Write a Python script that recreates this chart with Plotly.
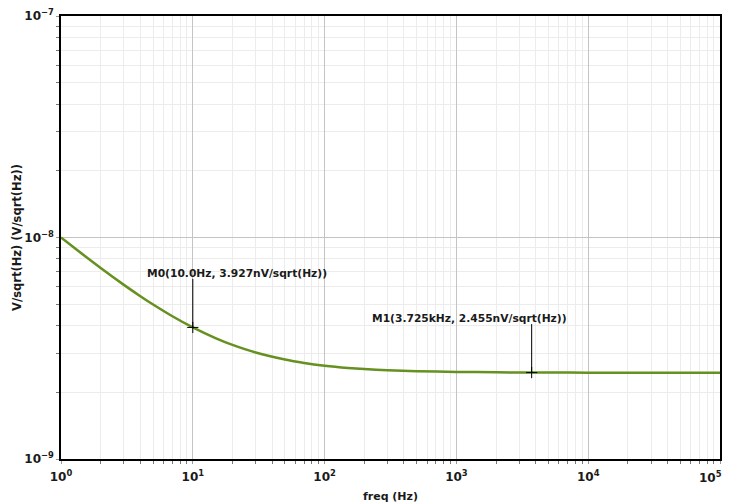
import plotly.graph_objects as go
import math

freq_hz = [1, 1.5, 2, 3, 4, 5, 7, 10, 15, 20, 30, 50, 70, 100, 150, 200, 300, 500,
           1000, 2000, 3725, 5000, 10000, 30000, 100000]
noise_v = [10.0e-9, 8.287e-9, 7.281e-9, 6.111e-9, 5.433e-9, 4.982e-9, 4.410e-9, 3.927e-9,
           3.505e-9, 3.274e-9, 3.025e-9, 2.811e-9, 2.713e-9, 2.638e-9, 2.578e-9, 2.548e-9,
           2.517e-9, 2.492e-9, 2.473e-9, 2.463e-9, 2.455e-9, 2.455e-9, 2.454e-9, 2.454e-9,
           2.454e-9]

marker_names = ["M0", "M1"]
marker_freq = [10.0, 3725.0]
marker_val = [3.927e-9, 2.455e-9]
marker_text = ["M0(10.0Hz, 3.927nV/sqrt(Hz))", "M1(3.725kHz, 2.455nV/sqrt(Hz))"]
marker_xshift = [-48, -162]

x_tickvals = [1, 10, 100, 1000, 10000, 100000]
x_ticktext = ["10<sup>0</sup>", "10<sup>1</sup>", "10<sup>2</sup>", "10<sup>3</sup>",
              "10<sup>4</sup>", "10<sup>5</sup>"]
y_tickvals = [1e-9, 1e-8, 1e-7]
y_ticktext = ["10<sup>−9</sup>", "10<sup>−8</sup>", "10<sup>−7</sup>"]

FONT = "DejaVu Sans, sans-serif"
TXT = "#1a1a1a"
TICKFONT = dict(family=FONT, size=12, color=TXT, weight="bold")

fig = go.Figure()
fig.add_trace(go.Scatter(x=freq_hz, y=noise_v, mode="lines",
                         line=dict(color="#66901f", width=2.5, shape="spline", smoothing=0.6),
                         showlegend=False, hoverinfo="skip"))
fig.add_trace(go.Scatter(x=marker_freq, y=marker_val, mode="markers",
                         marker=dict(symbol="cross-thin", size=8, line=dict(color="black", width=1)),
                         showlegend=False))

for name, fx, fy, txt, xs in zip(marker_names, marker_freq, marker_val, marker_text, marker_xshift):
    fig.add_annotation(x=math.log10(fx), y=math.log10(fy), text="", showarrow=True,
                       arrowhead=0, arrowwidth=1, arrowcolor="black", ax=0, ay=-50, standoff=0)
    fig.add_annotation(x=math.log10(fx), y=math.log10(fy), text=txt, showarrow=False,
                       xanchor="left", yanchor="middle", xshift=xs, yshift=54,
                       font=dict(family=FONT, size=10.7, color=TXT, weight="bold"))

# the last x tick label is kept inside the page, right-aligned at the axis end
x_ticktext_drawn = x_ticktext[:-1] + [""]
fig.add_annotation(x=math.log10(x_tickvals[-1]), y=0, yref="paper", text=x_ticktext[-1],
                   showarrow=False, xanchor="right", yanchor="top", xshift=4, yshift=-8,
                   font=TICKFONT)

fig.update_xaxes(type="log", range=[0, 5], tickvals=x_tickvals, ticktext=x_ticktext_drawn,
                 showgrid=True, gridcolor="#c4c4c4", gridwidth=1, automargin=False,
                 minor=dict(showgrid=True, gridcolor="#ececec", ticks="outside", ticklen=3,
                            tickcolor="#777", dtick="D1"),
                 showline=True, linecolor="black", linewidth=1.5, mirror=True,
                 ticks="outside", ticklen=3, tickcolor="#999", ticklabelstandoff=3,
                 tickfont=TICKFONT, ticklabeloverflow="allow",
                 title=dict(text="freq (Hz)", font=dict(family=FONT, size=11, color=TXT, weight="bold"), standoff=9),
                 zeroline=False)
fig.update_yaxes(type="log", range=[-9, -7], tickvals=y_tickvals, ticktext=y_ticktext,
                 showgrid=True, gridcolor="#c4c4c4", gridwidth=1, automargin=False,
                 minor=dict(showgrid=True, gridcolor="#ececec", ticks="outside", ticklen=3,
                            tickcolor="#777", dtick="D1"),
                 showline=True, linecolor="black", linewidth=1.5, mirror=True,
                 ticks="outside", ticklen=3, tickcolor="#999",
                 tickfont=TICKFONT, ticklabeloverflow="allow",
                 title=dict(text="V/sqrt(Hz) (V/sqrt(Hz))", font=dict(family=FONT, size=11.5, color=TXT, weight="bold"), standoff=0),
                 zeroline=False)

fig.update_layout(width=726, height=496, margin=dict(l=53, r=14, t=8, b=45),
                  plot_bgcolor="white", paper_bgcolor="white", showlegend=False)

fig.write_html("out.html")
